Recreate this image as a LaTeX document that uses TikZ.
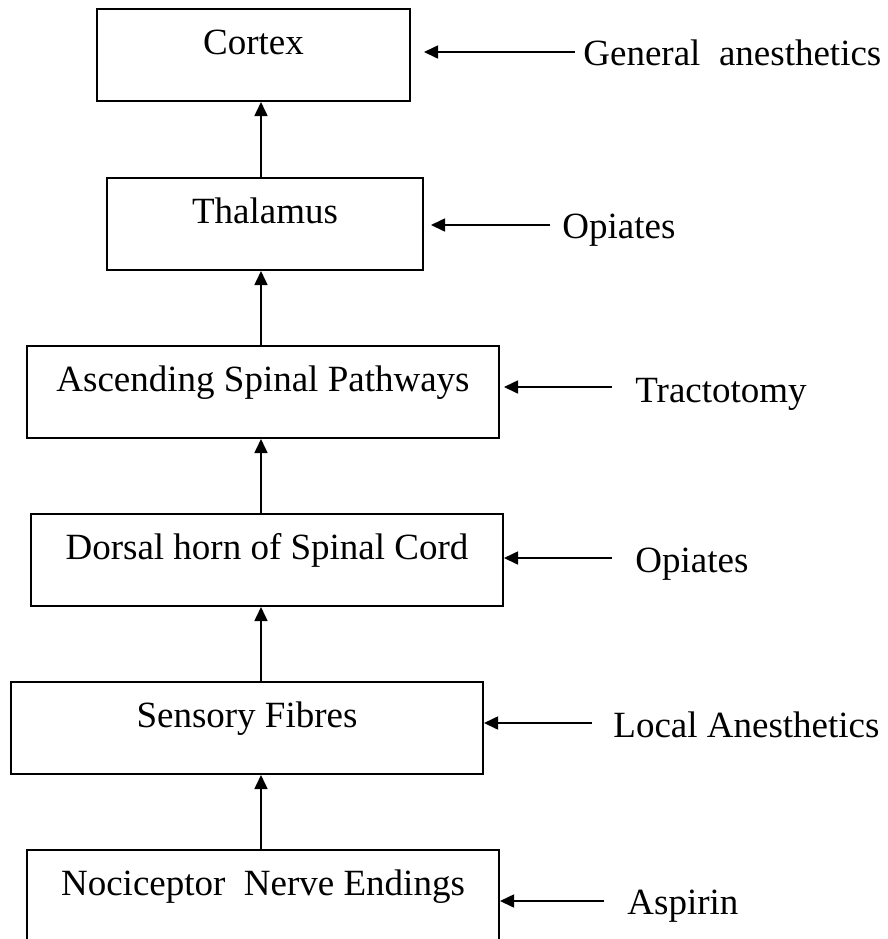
\documentclass[tikz,border=0pt]{standalone}
\usepackage{fontspec}
\setmainfont{Liberation Serif}
\usetikzlibrary{arrows.meta}

\begin{document}
\begin{tikzpicture}[x=0.5pt, y=-0.5pt,
    every node/.style={font=\fontsize{18.5}{22}\selectfont},
    stage/.style={draw, line width=1pt, inner sep=0pt, anchor=north, text height=22.5pt, text depth=23.5pt},
    flow/.style={-{Triangle[length=7pt,width=6.5pt]}, line width=0.8pt},
    drug/.style={anchor=base west, inner sep=0pt}]
    \useasboundingbox (0,0) rectangle (888,939);
    \clip (0,0) rectangle (888,939);
    % pathway boxes
    \node[stage, minimum width=156.5pt] (cortex) at (253.5,8) {Cortex};
    \node[stage, minimum width=158pt] (thal) at (265,177) {Thalamus};
    \node[stage, minimum width=236pt] (asc) at (263,345) {Ascending Spinal Pathways};
    \node[stage, minimum width=236pt] (dors) at (267,513) {Dorsal horn of Spinal Cord};
    \node[stage, minimum width=236pt] (sens) at (247,681) {Sensory Fibres};
    \node[stage, minimum width=236pt] (noci) at (263,849) {Nociceptor~~Nerve Endings};
    % upward signal
    \coordinate (spine) at (261,0);
    \draw[flow] (thal.north -| spine) -- (cortex.south -| spine);
    \draw[flow] (asc.north -| spine) -- (thal.south -| spine);
    \draw[flow] (dors.north -| spine) -- (asc.south -| spine);
    \draw[flow] (sens.north -| spine) -- (dors.south -| spine);
    \draw[flow] (noci.north -| spine) -- (sens.south -| spine);
    % sites of action
    \node[drug] (general) at (583,65) {General~~anesthetics};
    \node[drug] (opiA) at (562,238) {Opiates};
    \node[drug] (tract) at (635,402) {Tractotomy};
    \node[drug] (opiB) at (635,572) {Opiates};
    \node[drug] (local) at (613,737) {Local Anesthetics};
    \node[drug] (aspirin) at (627,914) {Aspirin};
    \coordinate (tA) at (575,52);
    \coordinate (tB) at (550,225);
    \coordinate (tC) at (612,387);
    \coordinate (tD) at (612,558);
    \coordinate (tE) at (592,723);
    \coordinate (tF) at (604,901);
    \draw[flow, shorten >=6.5pt] (tA) -- (cortex.east |- tA);
    \draw[flow, shorten >=3.5pt] (tB) -- (thal.east |- tB);
    \draw[flow, shorten >=2pt] (tC) -- (asc.east |- tC);
    \draw[flow] (tD) -- (dors.east |- tD);
    \draw[flow] (tE) -- (sens.east |- tE);
    \draw[flow] (tF) -- (noci.east |- tF);
\end{tikzpicture}
\end{document}
